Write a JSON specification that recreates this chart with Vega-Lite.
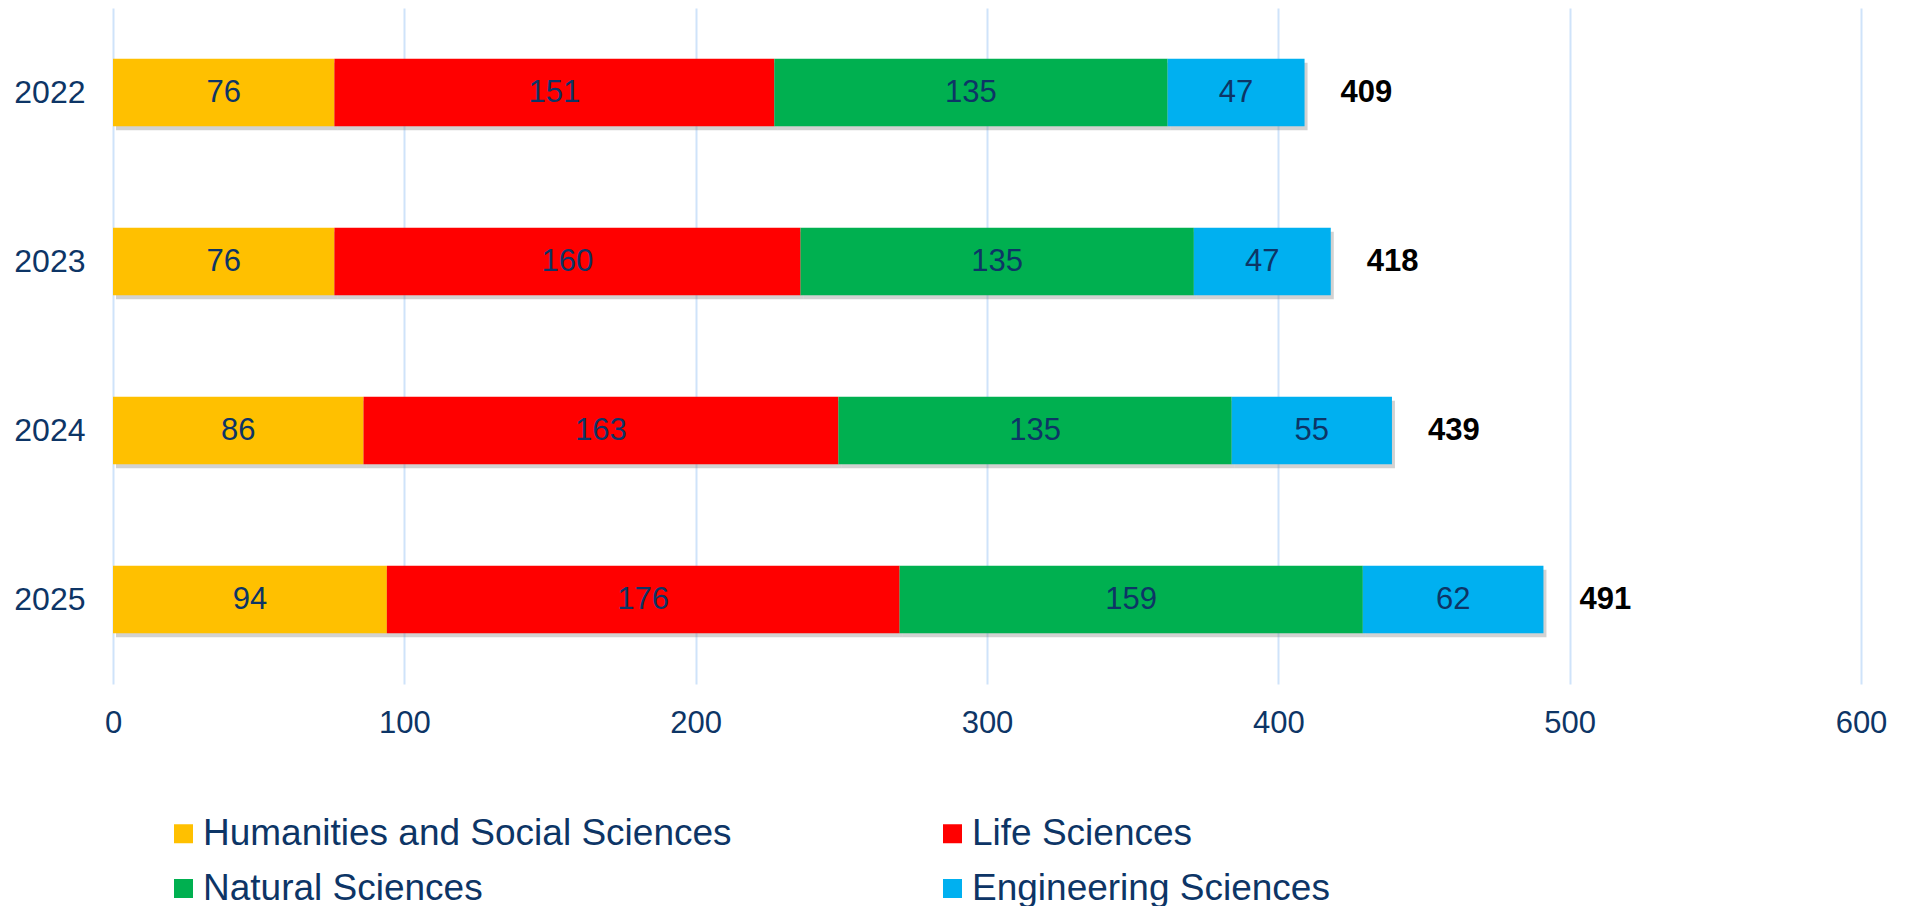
{
  "$schema": "https://vega.github.io/schema/vega-lite/v6.json",
  "autosize": {"type": "none"},
  "padding": {"left": 113, "top": 8, "right": 46, "bottom": 222},
  "width": 1748,
  "height": 676,
  "background": "white",
  "config": {
    "font": "Liberation Sans",
    "view": {"stroke": null},
    "axis": {"labelFont": "Liberation Sans"},
    "legend": {"labelFont": "Liberation Sans"}
  },
  "data": {
    "values": [
      {"year": "2022", "field": "Humanities and Social Sciences", "k": 1, "value": 76},
      {"year": "2022", "field": "Life Sciences", "k": 2, "value": 151},
      {"year": "2022", "field": "Natural Sciences", "k": 3, "value": 135},
      {"year": "2022", "field": "Engineering Sciences", "k": 4, "value": 47},
      {"year": "2023", "field": "Humanities and Social Sciences", "k": 1, "value": 76},
      {"year": "2023", "field": "Life Sciences", "k": 2, "value": 160},
      {"year": "2023", "field": "Natural Sciences", "k": 3, "value": 135},
      {"year": "2023", "field": "Engineering Sciences", "k": 4, "value": 47},
      {"year": "2024", "field": "Humanities and Social Sciences", "k": 1, "value": 86},
      {"year": "2024", "field": "Life Sciences", "k": 2, "value": 163},
      {"year": "2024", "field": "Natural Sciences", "k": 3, "value": 135},
      {"year": "2024", "field": "Engineering Sciences", "k": 4, "value": 55},
      {"year": "2025", "field": "Humanities and Social Sciences", "k": 1, "value": 94},
      {"year": "2025", "field": "Life Sciences", "k": 2, "value": 176},
      {"year": "2025", "field": "Natural Sciences", "k": 3, "value": 159},
      {"year": "2025", "field": "Engineering Sciences", "k": 4, "value": 62}
    ]
  },
  "encoding": {
    "y": {
      "field": "year",
      "type": "nominal",
      "sort": ["2022", "2023", "2024", "2025"],
      "scale": {"paddingInner": 0.6, "paddingOuter": 0.3},
      "axis": {
        "title": null,
        "domain": false,
        "ticks": false,
        "labelFontSize": 32,
        "labelColor": "#0d3566",
        "labelPadding": 28
      }
    }
  },
  "layer": [
    {
      "mark": {"type": "bar", "color": "#7f7f7f", "opacity": 0.35, "xOffset": 3, "yOffset": 4},
      "encoding": {
        "x": {"field": "value", "type": "quantitative", "stack": "zero", "scale": {"domain": [0, 600], "nice": false}},
        "order": {"field": "k", "type": "quantitative"}
      }
    },
    {
      "mark": {"type": "bar"},
      "encoding": {
        "x": {
          "field": "value",
          "type": "quantitative",
          "stack": "zero",
          "scale": {"domain": [0, 600], "nice": false},
          "axis": {
            "title": null,
            "values": [0, 100, 200, 300, 400, 500, 600],
            "domain": false,
            "ticks": false,
            "grid": true,
            "gridColor": "#cfe3fa",
            "gridWidth": 2,
            "labelFontSize": 31,
            "labelColor": "#0d3566",
            "labelPadding": 24,
            "labelFlush": false
          }
        },
        "order": {"field": "k", "type": "quantitative"},
        "color": {
          "field": "field",
          "type": "nominal",
          "scale": {
            "domain": ["Humanities and Social Sciences", "Life Sciences", "Natural Sciences", "Engineering Sciences"],
            "range": ["#FFC000", "#FF0000", "#00B050", "#00B0F0"]
          },
          "legend": {
            "title": null,
            "orient": "none",
            "legendX": 52,
            "legendY": 807,
            "columns": 2,
            "direction": "horizontal",
            "symbolType": "square",
            "symbolSize": 361,
            "symbolStrokeWidth": 0,
            "labelFontSize": 37,
            "labelColor": "#0d3566",
            "labelOffset": 1,
            "labelLimit": 0,
            "columnPadding": 202,
            "rowPadding": 17,
            "padding": 0
          }
        }
      }
    },
    {
      "mark": {"type": "text", "fontSize": 31, "color": "#0d3566", "align": "center", "baseline": "middle"},
      "encoding": {
        "x": {"field": "value", "type": "quantitative", "stack": "zero", "bandPosition": 0.5},
        "order": {"field": "k", "type": "quantitative"},
        "text": {"field": "value", "type": "quantitative"}
      }
    },
    {
      "transform": [
        {"aggregate": [{"op": "sum", "field": "value", "as": "total"}], "groupby": ["year"]}
      ],
      "mark": {"type": "text", "fontSize": 31, "fontWeight": "bold", "color": "#000000", "align": "left", "baseline": "middle", "dx": 36},
      "encoding": {
        "x": {"field": "total", "type": "quantitative"},
        "text": {"field": "total", "type": "quantitative"}
      }
    }
  ]
}
